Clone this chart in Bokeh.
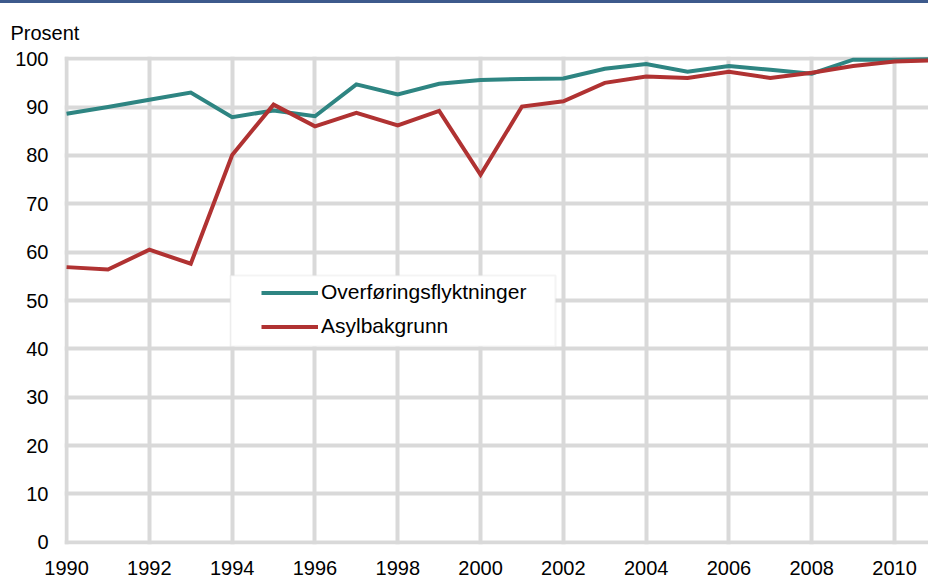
from bokeh.plotting import figure
from bokeh.models import (Range1d, FixedTicker, Legend, LegendItem,
                          BoxAnnotation, ColumnDataSource, Div)
from bokeh.layouts import column
from bokeh.embed import file_html
from bokeh.resources import INLINE

years = list(range(1990, 2012))
overforing = [88.6, 90.0, 91.5, 93.0, 87.9, 89.3, 88.1, 94.7, 92.6, 94.8, 95.6,
              95.8, 95.9, 97.9, 98.9, 97.3, 98.5, 97.7, 96.9, 99.8, 99.8, 99.9]
asyl = [56.9, 56.4, 60.5, 57.6, 80.1, 90.5, 86.0, 88.8, 86.2, 89.2, 76.0,
        90.1, 91.2, 95.0, 96.3, 96.0, 97.3, 96.0, 97.1, 98.5, 99.4, 99.7]
x_ticks = list(range(1990, 2012, 2))
y_ticks = list(range(0, 101, 10))
series_names = ["Overføringsflyktninger", "Asylbakgrunn"]
y_label = "Prosent"

FONT = "Liberation Sans"
GRID = "#d9d9d9"
TEAL = "#2e8582"
RED = "#b03232"

src = ColumnDataSource(dict(year=years, ov=overforing, asyl=asyl))

p = figure(width=928, height=574, output_backend="svg", toolbar_location=None,
           x_range=Range1d(1989.95, 2010.82), y_range=Range1d(-0.45, 100.45),
           min_border_left=64, min_border_right=0, min_border_top=53,
           min_border_bottom=32, title=y_label)
p.outline_line_color = None
p.background_fill_color = "white"
p.border_fill_color = "white"

p.title.align = "left"
p.title.vertical_align = "top"
p.title.offset = -54
p.title.standoff = 22
p.title.text_font = FONT
p.title.text_font_size = "20px"
p.title.text_font_style = "normal"
p.title.text_color = "#000000"

p.xaxis.ticker = FixedTicker(ticks=x_ticks)
p.yaxis.ticker = FixedTicker(ticks=y_ticks)
for ax in (p.xaxis[0], p.yaxis[0]):
    ax.axis_line_color = None
    ax.major_tick_line_color = None
    ax.minor_tick_line_color = None
    ax.major_tick_out = 0
    ax.major_tick_in = 0
    ax.major_label_text_font = FONT
    ax.major_label_text_font_size = "20px"
    ax.major_label_text_color = "#000000"
p.yaxis.major_label_standoff = 16
p.xaxis.major_label_standoff = 16

p.xgrid.ticker = FixedTicker(ticks=x_ticks)
p.ygrid.ticker = FixedTicker(ticks=y_ticks)
for g in (p.xgrid[0], p.ygrid[0]):
    g.grid_line_color = GRID
    g.grid_line_width = 4

r1 = p.line("year", "ov", source=src, line_color=TEAL, line_width=4,
            line_join="miter")
r2 = p.line("year", "asyl", source=src, line_color=RED, line_width=4,
            line_join="miter")

# legend box (white, light grey border)
p.add_layout(BoxAnnotation(left=1993.96, right=2001.81, top=55.15, bottom=40.5,
                           fill_color="white", fill_alpha=1.0,
                           line_color=GRID, line_width=2))

legend = Legend(items=[LegendItem(label=series_names[0], renderers=[r1]),
                       LegendItem(label=series_names[1], renderers=[r2])],
                location=(197, 206), orientation="vertical",
                padding=8, spacing=10, glyph_width=57, glyph_height=21,
                label_height=21, label_standoff=3,
                label_text_font=FONT, label_text_font_size="21px",
                label_text_color="#000000",
                border_line_color=None,
                background_fill_alpha=0.0, margin=0)
p.add_layout(legend, "center")

bar = Div(width=928, height=3, margin=(0, 0, 0, 0),
          styles={"background-color": "#3d5a8c"})
layout = column(bar, p, spacing=0)

open("out.html", "w").write(file_html(layout, INLINE))
